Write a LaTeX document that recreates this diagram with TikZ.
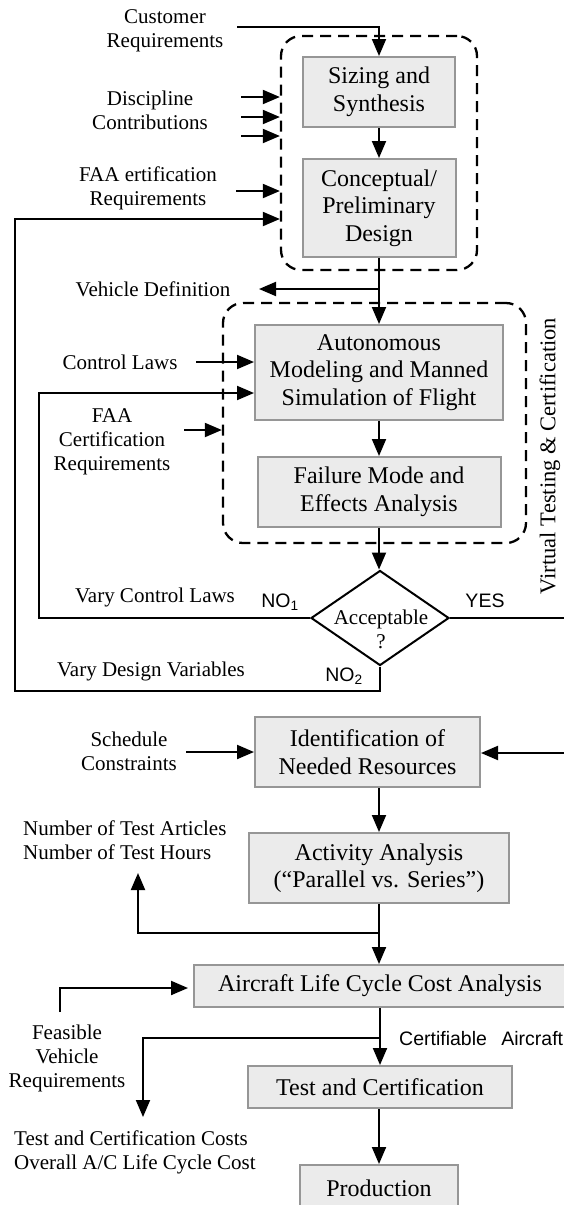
\documentclass[tikz,border=0pt]{standalone}
\usepackage{fontspec}
\setmainfont{Liberation Serif}
\newfontfamily\sansf{Liberation Sans}
\usetikzlibrary{arrows.meta,shapes.geometric,calc}
\definecolor{boxfill}{RGB}{235,235,235}
\definecolor{boxline}{RGB}{150,150,150}
\newcommand\myboxfont{\fontsize{24}{27.5}\selectfont}
\newcommand\mylblfont{\fontsize{21}{24}\selectfont}
\newcommand\mysansfont{\sansf\fontsize{19.5}{22}\selectfont}
\begin{document}
\begin{tikzpicture}[x=1pt,y=-1pt,
  box/.style={draw=boxline,fill=boxfill,line width=2pt,inner sep=0pt,align=center,font=\myboxfont},
  lbl/.style={align=center,font=\mylblfont,inner sep=0pt},
  sns/.style={font=\mysansfont,inner sep=0pt},
  arr/.style={line width=2pt,-{Triangle[length=17pt,width=14pt]}},
  ln/.style={line width=2pt},
  grp/.style={draw,dash pattern=on 11pt off 7pt,line width=2.3pt,rounded corners=20pt,inner sep=0pt}
]
\clip (0,0) rectangle (564,1205);
\fill[white] (0,0) rectangle (564,1205);

% groups
\node[grp,minimum width=196pt,minimum height=234pt] (grp1) at (379,153) {};
\node[grp,minimum width=303pt,minimum height=240pt] (grp2) at (374.5,423) {};

% boxes
\node[box,minimum width=152pt,minimum height=70pt] (sizing) at (379,92) {Sizing and\\Synthesis};
\node[box,minimum width=153pt,minimum height=98pt] (concept) at (379,208) {Conceptual/\\Preliminary\\Design};
\node[box,minimum width=248pt,minimum height=95pt] (auto) at (379,372.5) {Autonomous\\Modeling and Manned\\Simulation of Flight};
\node[box,minimum width=243pt,minimum height=70pt] (fmea) at (379,492) {Failure Mode and\\Effects Analysis};
\node[draw,diamond,line width=2pt,minimum width=138pt,minimum height=95pt,inner sep=0pt] (dia) at (380,618) {};
\node[lbl] (acc) at (381,629) {Acceptable\\?};
\node[box,minimum width=225pt,minimum height=70pt] (ident) at (367.5,752) {Identification of\\Needed Resources};
\node[box,minimum width=260pt,minimum height=70pt] (activity) at (379,868) {Activity Analysis\\(``Parallel vs. Series'')};
\node[box,minimum width=372pt,minimum height=42pt] (lcc) at (380,986) {Aircraft Life Cycle Cost Analysis};
\node[box,minimum width=264pt,minimum height=42pt] (test) at (380,1087) {Test and Certification};
\node[box,minimum width=158pt,minimum height=46pt] (prod) at (379,1188) {Production};

% labels
\node[lbl] (tcust) at (165,30.5) {Customer\\Requirements};
\node[lbl] (tdisc) at (150,110.5) {Discipline\\Contributions};
\node[lbl] (tfaa1) at (148,188.5) {FAA ertification\\Requirements};
\node[lbl] (tveh) at (153,289) {Vehicle Definition};
\node[lbl] (tcl) at (120,362) {Control Laws};
\node[lbl] (tfaa2) at (112,441.5) {FAA\\Certification\\Requirements};
\node[lbl] (tvcl) at (155,597) {Vary Control Laws};
\node[lbl] (tvdv) at (151,671) {Vary Design Variables};
\node[sns] (tno1) at (280,602) {NO\textsubscript{1}};
\node[sns] (tno2) at (344,676) {NO\textsubscript{2}};
\node[sns] (tyes) at (485,601) {YES};
\node[lbl,rotate=90,font=\fontsize{22.5}{24}\selectfont] (tvirt) at (550,456) {Virtual Testing \& Certification};
\node[lbl] (tsched) at (129,751.5) {Schedule\\Constraints};
\node[lbl,align=left,anchor=west] (tnum) at (23,840) {Number of Test Articles\\Number of Test Hours};
\node[lbl] (tfeas) at (67,1058) {Feasible\\Vehicle\\Requirements};
\node[sns,anchor=west] (tcert) at (399,1039) {Certifiable\hspace{9pt} Aircraft};
\node[lbl,align=left,anchor=west] (tcost) at (14,1152.5) {Test and Certification Costs\\Overall A/C Life Cycle Cost};

% coordinates
\coordinate (cust) at (237,27);
\coordinate (d1) at (241,97);
\coordinate (d2) at (241,117);
\coordinate (d3) at (241,136);
\coordinate (f1) at (236,191);
\coordinate (n2a) at (15,691);
\coordinate (n2b) at (15,219);
\coordinate (vd) at (259,289);
\coordinate (clw) at (196,362);
\coordinate (n1a) at (39,618);
\coordinate (n1b) at (39,393);
\coordinate (fc) at (184,430);
\coordinate (yes) at (570,618);
\coordinate (ra) at (570,753);
\coordinate (sc) at (186,752);
\coordinate (br1a) at (138,933);
\coordinate (br1) at (138,873);
\coordinate (fv) at (60,1012);
\coordinate (fv2) at (60,988);
\coordinate (br2a) at (143,1038);
\coordinate (br2) at (143,1117);

% connectors
\draw[arr] (cust) -| (sizing.north);
\draw[arr] (d1) -- (d1 -| grp1.west);
\draw[arr] (d2) -- (d2 -| grp1.west);
\draw[arr] (d3) -- (d3 -| grp1.west);
\draw[arr] (f1) -- (f1 -| grp1.west);
\draw[arr] (sizing.south) -- (concept.north);
\draw[arr] (concept.south) -- (auto.north);
\draw[arr] (vd -| concept.south) -- (vd);
\draw[arr] (clw) -- (clw -| auto.west);
\draw[arr] (fc) -- (fc -| grp2.west);
\draw[arr] (auto.south) -- (fmea.north);
\draw[arr] (fmea.south) -- (fmea.south |- dia.north);
\draw[arr] (dia.west) -- (n1a) -- (n1b) -- (n1b -| auto.west);
\draw[arr] (dia.south) -- (dia.south |- n2a) -- (n2a) -- (n2b) -- (n2b -| grp1.west);
\draw[ln] (dia.east) -- (yes);
\draw[arr] (ra) -- (ra -| ident.east);
\draw[arr] (sc) -- (sc -| ident.west);
\draw[arr] (activity.north |- ident.south) -- (activity.north);
\draw[arr] (activity.south) -- (lcc.north -| activity.south);
\draw[arr] (br1a -| activity.south) -- (br1a) -- (br1);
\draw[arr,shorten >=5pt] (fv) -- (fv2) -- (fv2 -| lcc.west);
\draw[arr] (lcc.south -| test.north) -- (test.north);
\draw[arr] (br2a -| test.north) -- (br2a) -- (br2);
\draw[arr] (test.south -| prod.north) -- (prod.north);
\end{tikzpicture}
\end{document}
